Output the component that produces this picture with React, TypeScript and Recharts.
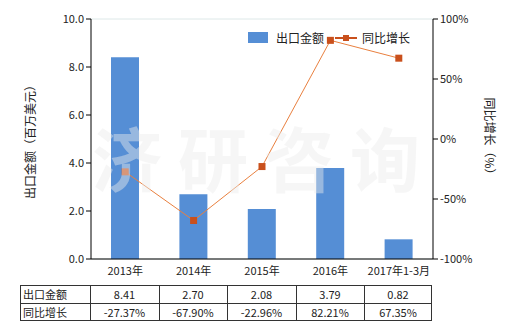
import React from 'react';
import {
  ComposedChart, Bar, Line, XAxis, YAxis, CartesianGrid,
} from 'recharts';

const categories = ['2013年', '2014年', '2015年', '2016年', '2017年1-3月'];
const exportValues = [8.41, 2.70, 2.08, 3.79, 0.82];
const growthValues = [-27.37, -67.90, -22.96, 82.21, 67.35];
const leftTicks = [0, 2, 4, 6, 8, 10];
const rightTicks = [-100, -50, 0, 50, 100];
const barName = '出口金额';
const lineName = '同比增长';

const FONT = '"Noto Sans CJK SC", "DejaVu Sans", sans-serif';
const BAR_COLOR = '#558ed5';
const LINE_COLOR = '#e9803f';
const DOT_COLOR = '#c9501c';

const data = categories.map((c, i) => ({
  name: c,
  value: exportValues[i],
  growth: growthValues[i],
}));

const SquareDot = (props: any) => {
  const { cx, cy } = props;
  if (cx == null || cy == null) return null;
  return <rect x={cx - 3.5} y={cy - 3.5} width={7} height={7} fill={DOT_COLOR} />;
};

const LegendBox = () => (
  <div style={{
    position: 'absolute', left: 248, top: 29, display: 'flex', alignItems: 'center',
    fontSize: 12, fontFamily: FONT, color: '#222', whiteSpace: 'nowrap',
  }}>
    <span style={{ display: 'inline-block', width: 20, height: 11, background: BAR_COLOR, marginRight: 8 }} />
    <span style={{ marginRight: 11 }}>{barName}</span>
    <svg width={22} height={10} style={{ marginRight: 5 }}>
      <line x1={0} y1={5} x2={22} y2={5} stroke={DOT_COLOR} strokeWidth={2} />
      <rect x={8} y={2} width={6} height={6} fill={DOT_COLOR} />
    </svg>
    <span>{lineName}</span>
  </div>
);

const colEdges = [20, 90, 159, 227, 296, 364, 432];

const App: React.FC = () => {
  const cell = (x1: number, x2: number, y: number, text: string, left = false) => (
    <div
      key={`${x1}-${y}`}
      style={{
        position: 'absolute', left: x1, top: y, width: x2 - x1, height: 18,
        lineHeight: '18px', fontSize: 11, fontFamily: FONT, color: '#222',
        textAlign: left ? 'left' : 'center', paddingLeft: left ? 3 : 0, boxSizing: 'border-box',
      }}
    >
      {text}
    </div>
  );

  return (
    <div style={{ position: 'absolute', left: 0, top: 0, width: 520, height: 330, background: '#fff' }}>
      <ComposedChart
        width={520}
        height={330}
        data={data}
        margin={{ top: 19, right: 0, bottom: 51, left: 0 }}
      >
        <CartesianGrid vertical={false} stroke="#dde8e8" />
        <XAxis
          dataKey="name"
          height={20}
          tickLine={false}
          axisLine={{ stroke: '#000' }}
          tick={{ fontSize: 11, fill: '#222', fontFamily: FONT }}
          interval={0}
        />
        <YAxis
          yAxisId="left"
          width={91}
          domain={[0, 10]}
          ticks={leftTicks}
          tickFormatter={(v: number) => v.toFixed(1)}
          axisLine={{ stroke: '#000' }}
          tickLine={{ stroke: '#000' }}
          tickSize={5}
          tick={{ fontSize: 11, fill: '#222', fontFamily: FONT }}
          label={{
            value: '出口金额（百万美元）', angle: -90, position: 'insideLeft', offset: 31,
            style: { fontSize: 12, fill: '#222', fontFamily: FONT, textAnchor: 'middle' },
          }}
        />
        <YAxis
          yAxisId="right"
          orientation="right"
          width={87}
          domain={[-100, 100]}
          ticks={rightTicks}
          tickFormatter={(v: number) => `${v}%`}
          axisLine={{ stroke: '#000' }}
          tickLine={{ stroke: '#000' }}
          tickSize={5}
          tick={{ fontSize: 11, fill: '#222', fontFamily: FONT }}
          label={{
            value: '同比增长（%）', angle: 90, position: 'insideRight', offset: 31,
            style: { fontSize: 12, fill: '#222', fontFamily: FONT, textAnchor: 'middle' },
          }}
        />
        <Bar
          yAxisId="left"
          dataKey="value"
          name={barName}
          fill={BAR_COLOR}
          barSize={28}
          isAnimationActive={false}
        />
        <Line
          yAxisId="right"
          dataKey="growth"
          name={lineName}
          stroke={LINE_COLOR}
          strokeWidth={1}
          dot={<SquareDot />}
          activeDot={false}
          isAnimationActive={false}
        />
      </ComposedChart>

      {/* faint watermark */}
      <div style={{
        position: 'absolute', left: 92, top: 112, fontSize: 70, fontWeight: 'bold',
        fontFamily: FONT, color: 'rgba(235,235,235,0.45)', letterSpacing: 16,
        whiteSpace: 'nowrap', pointerEvents: 'none', lineHeight: '90px',
      }}>
        济研咨询
      </div>

      <LegendBox />

      {/* data table below the chart */}
      <div style={{ position: 'absolute', left: 20, top: 285, width: 412, height: 36, border: '1px solid #333', boxSizing: 'border-box' }} />
      <div style={{ position: 'absolute', left: 20, top: 303, width: 412, height: 1, background: '#333' }} />
      {colEdges.slice(1, -1).map((x) => (
        <div key={x} style={{ position: 'absolute', left: x, top: 285, width: 1, height: 36, background: '#333' }} />
      ))}
      {cell(colEdges[0], colEdges[1], 285, barName, true)}
      {cell(colEdges[0], colEdges[1], 303, lineName, true)}
      {exportValues.map((v, i) => cell(colEdges[i + 1], colEdges[i + 2], 285, v.toFixed(2)))}
      {growthValues.map((v, i) => cell(colEdges[i + 1], colEdges[i + 2], 303, `${v.toFixed(2)}%`))}
    </div>
  );
};

export default App;
